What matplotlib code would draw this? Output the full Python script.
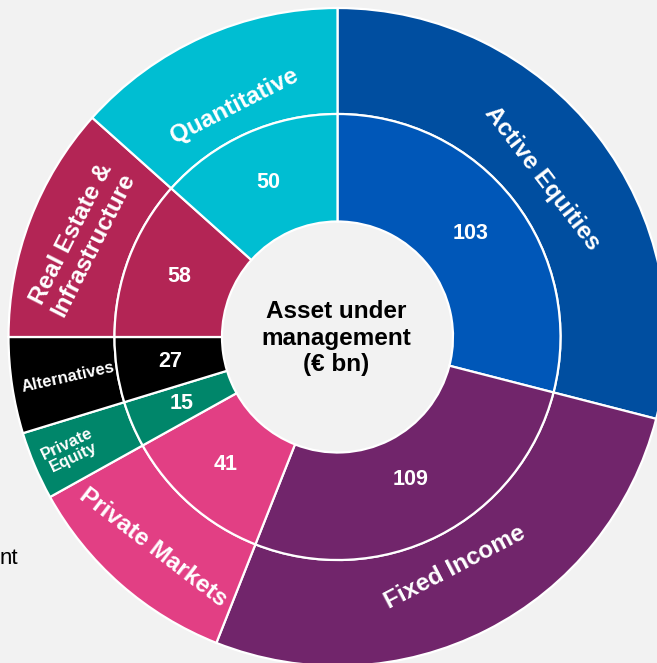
import numpy as np
import matplotlib.pyplot as plt

plt.rcParams['font.family'] = ['Liberation Sans', 'DejaVu Sans']

# segments, clockwise from 12 o'clock
segments = ["Active Equities", "Fixed Income", "Private Markets", "Private\nEquity",
            "Alternatives", "Real Estate &\nInfrastructure", "Quantitative"]
aum_bn = [103, 109, 41, 15, 27, 58, 50]
# angular share of each segment as drawn in the picture (degrees, not proportional to AuM)
drawn_share_deg = [104.4, 97.2, 39.3, 12.1, 17.0, 41.8, 48.2]

outer_colors = ["#004EA0", "#71256B", "#E23F84", "#00866A", "#000000", "#B32555", "#00BED2"]
inner_colors = ["#0057B8", "#71256B", "#E23F84", "#00866A", "#000000", "#B32555", "#00BED2"]
center_title = "Asset under\nmanagement\n(€ bn)"

BG = "#F2F2F2"
W, H = 657, 663
cx, cy = 337.5, H - 337
r_out, r_mid, r_hole = 329, 223, 115.5

fig = plt.figure(figsize=(W / 100, H / 100), dpi=100, facecolor=BG)
ax = fig.add_axes([0, 0, 1, 1])
ax.set_facecolor(BG)

edge = dict(edgecolor="white", linewidth=1.6)
ax.pie(drawn_share_deg, radius=r_out, center=(cx, cy), startangle=90, counterclock=False,
       colors=outer_colors, wedgeprops=dict(width=r_out - r_mid, **edge))
ax.pie(drawn_share_deg, radius=r_mid, center=(cx, cy), startangle=90, counterclock=False,
       colors=inner_colors, wedgeprops=dict(width=r_mid - r_hole, **edge))

ax.set_xlim(0, W)
ax.set_ylim(0, H)
ax.set_aspect("equal")
ax.axis("off")

# mid angle of every wedge
starts = 90 - np.concatenate([[0], np.cumsum(drawn_share_deg)[:-1]])
mids = starts - np.array(drawn_share_deg) / 2

# outer labels: radius, rotation, font size
label_style = {
    "Active Equities": (259, -52.5, 17.5),
    "Fixed Income": (259, 27.5, 17.5),
    "Private Markets": (280, -37.5, 17.5),
    "Private\nEquity": (290, 25.5, 12),
    "Alternatives": (273, 12.5, 12),
    "Real Estate &\nInfrastructure": (273, 63, 17.5),
    "Quantitative": (253, 27, 17.5),
}

for name, ang, val in zip(segments, mids, aum_bn):
    t = np.deg2rad(ang)
    r, rot, fs = label_style[name]
    ax.text(cx + r * np.cos(t), cy + r * np.sin(t), name, color="white", fontsize=fs,
            fontweight="bold", rotation=rot, rotation_mode="anchor",
            ha="center", va="center", multialignment="center", linespacing=1.05)
    rn = 160 if val == 109 else 169
    ax.text(cx + rn * np.cos(t), cy + rn * np.sin(t), str(val), color="white",
            fontsize=15.5, fontweight="bold", ha="center", va="center")

ax.text(cx - 1, cy - 1, center_title, ha="center", va="center", fontsize=17.5,
        fontweight="bold", color="black", linespacing=1.22)

# text fragment at the left edge
ax.text(0, H - 564, "nt", ha="left", va="baseline", fontsize=16, color="black")

fig.savefig("out.png", dpi=100, facecolor=BG)
